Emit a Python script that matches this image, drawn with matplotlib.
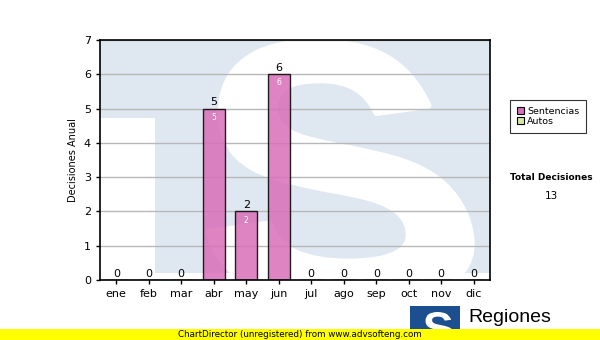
import matplotlib
matplotlib.use('Agg')
import numpy as np
from matplotlib import pyplot as plt
from matplotlib.textpath import TextPath
from matplotlib.font_manager import FontProperties
from matplotlib.patches import PathPatch, Rectangle, Patch
from matplotlib.path import Path

months = ['ene', 'feb', 'mar', 'abr', 'may', 'jun', 'jul', 'ago', 'sep', 'oct', 'nov', 'dic']
sentencias = [0, 0, 0, 5, 2, 6, 0, 0, 0, 0, 0, 0]
series_names = ['Sentencias', 'Autos']
total_label = 'Total Decisiones'
total_value = 13

pink = '#d96fb8'
green = '#d8e8a0'
wm_blue = '#dfe8f1'

fig = plt.figure(figsize=(6, 3.4), dpi=100)
ax = fig.add_axes([100 / 600, 60 / 340, 390 / 600, 240 / 340])
ax.set_facecolor(wm_blue)


def logo_s(x0, y0, x1, y1, top_ratio=1.0):
    # glyph "S" squeezed into a box, optionally narrower at the top
    p = TextPath((0, 0), 'S', prop=FontProperties(family='Liberation Sans', weight='bold'), size=1)
    v = p.vertices.copy()
    ext = p.get_extents()
    u = (v[:, 0] - ext.x0) / ext.width
    w = (v[:, 1] - ext.y0) / ext.height
    u = u * (1 - (1 - top_ratio) * w)
    v[:, 0] = x0 + u * (x1 - x0)
    v[:, 1] = y0 + w * (y1 - y0)
    return Path(v, p.codes)


# watermark logo: blue field with white cut-outs
ax.add_patch(Rectangle((0, 0), 0.141, 0.675, transform=ax.transAxes, fc='white', ec='none', zorder=0.2))
ax.add_patch(Rectangle((0, 0), 1, 0.03, transform=ax.transAxes, fc='white', ec='none', zorder=0.2))
ax.add_patch(PathPatch(logo_s(0.28, -0.09, 1.0, 0.99, 0.74), transform=ax.transAxes,
                       fc='white', ec='white', lw=5, joinstyle='round', zorder=0.3))

x = np.arange(len(months))
bars = ax.bar(x, sentencias, width=0.68, color=pink, alpha=0.85, edgecolor='black', linewidth=1, zorder=2)
for xi, v in zip(x, sentencias):
    ax.annotate(str(v), (xi, v), xytext=(0, 1), textcoords='offset points',
                ha='center', va='bottom', fontsize=8, color='black', zorder=3)
    if v > 0:
        ax.annotate(str(v), (xi, v), xytext=(0, -3), textcoords='offset points',
                    ha='center', va='top', fontsize=5.5, color='white', zorder=3)

ax.set_xlim(-0.5, len(months) - 0.5)
ax.set_ylim(0, 7)
ax.set_yticks(range(0, 8))
ax.set_xticks(x)
ax.set_xticklabels(months)
ax.tick_params(axis='both', labelsize=8, length=3, width=1, color='black')
ax.set_ylabel('Decisiones Anual', fontsize=7, labelpad=4)
ax.set_axisbelow(True)
ax.grid(axis='y', color='#b8b8b8', linewidth=1)
for sp in ax.spines.values():
    sp.set_linewidth(1.2)

handles = [Patch(fc=pink, ec='black', lw=0.8), Patch(fc=green, ec='black', lw=0.8)]
leg = fig.legend(handles, series_names, loc='upper left', bbox_to_anchor=(510 / 600, 1 - 100 / 340),
                 fontsize=6.8, frameon=True, fancybox=False, edgecolor='black',
                 handlelength=0.8, handleheight=0.8, handletextpad=0.3, labelspacing=0.15,
                 borderpad=0.7, borderaxespad=0)
leg.get_frame().set_linewidth(0.8)

fig.text(551 / 600, 1 - 177 / 340, total_label, ha='center', va='center', fontsize=6.5, fontweight='bold')
fig.text(551 / 600, 1 - 196 / 340, str(total_value), ha='center', va='center', fontsize=7.5)

# bottom logo
fig.patches.append(Rectangle((410 / 600, 0), 50 / 600, 34 / 340, transform=fig.transFigure,
                             fc='#1b4f8f', ec='none', zorder=1))
fig.patches.append(PathPatch(logo_s(424 / 600, -4 / 340, 457 / 600, 28 / 340, 0.8), transform=fig.transFigure,
                             fc='white', ec='none', zorder=2))
fig.text(468 / 600, 1 - 322 / 340, 'Regiones', fontsize=14, family='Liberation Sans', va='baseline')

# unregistered banner
fig.patches.append(Rectangle((0, 0), 1, 11 / 340, transform=fig.transFigure, fc='#ffff00', ec='none', zorder=3))
fig.text(300 / 600, 5.5 / 340, 'ChartDirector (unregistered) from www.advsofteng.com',
         ha='center', va='center', fontsize=6.3, zorder=4)

fig.savefig('out.png', dpi=100)
